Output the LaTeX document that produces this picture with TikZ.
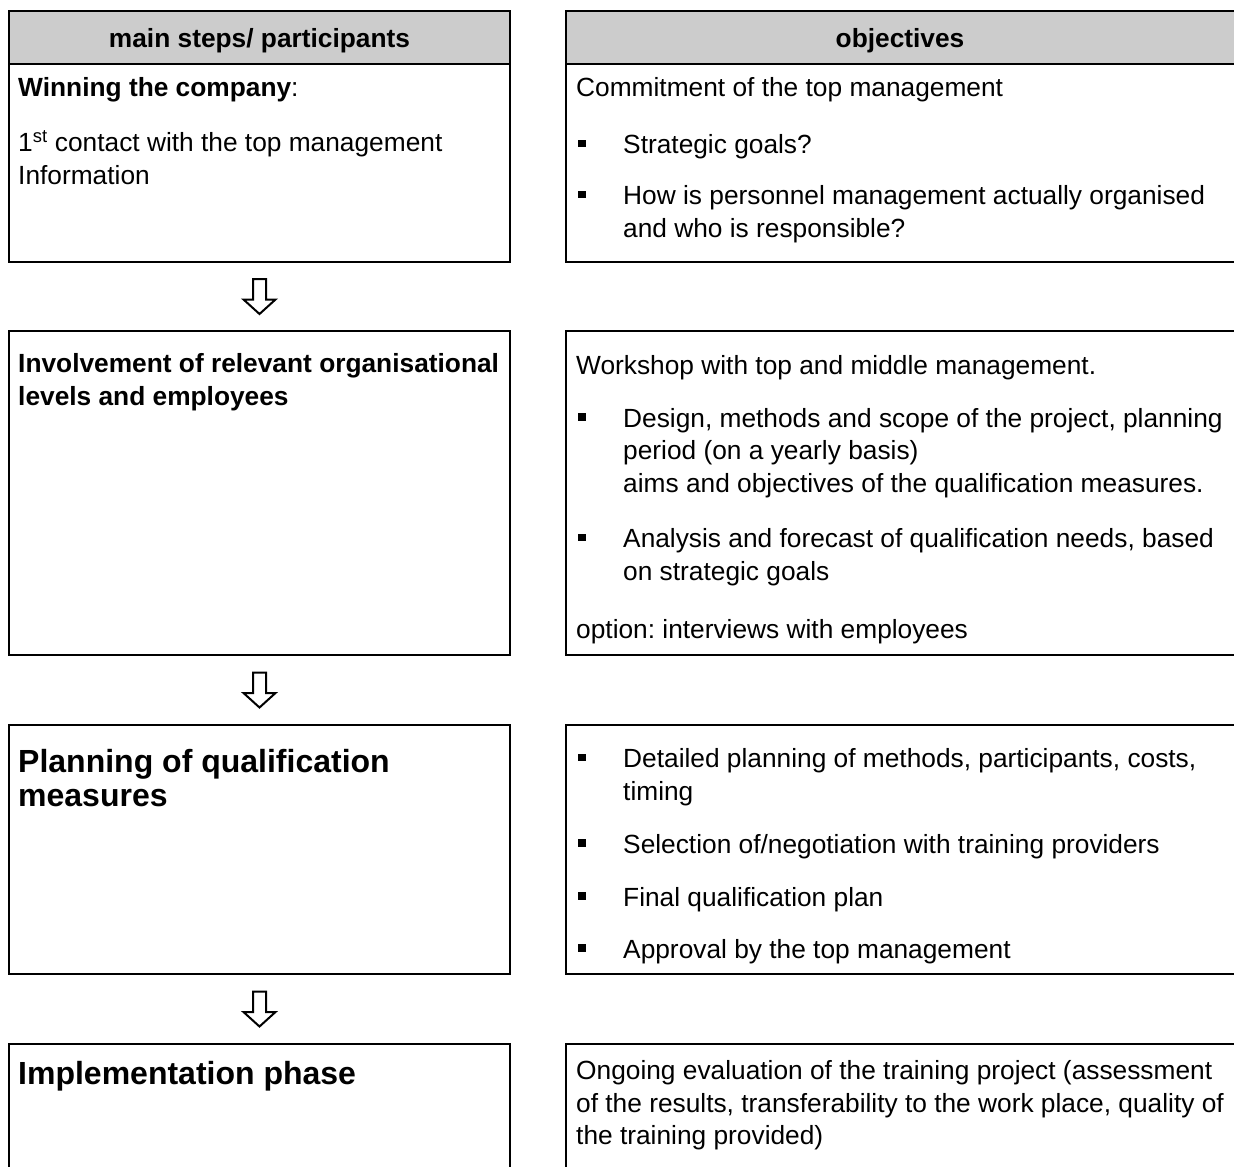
\documentclass[tikz,border=0pt]{standalone}
\usepackage{fontspec}
\setmainfont{Liberation Sans}
\usetikzlibrary{positioning,calc}
\frenchspacing

\tikzset{
  cellbox/.style={line width=2.3pt, draw=black},
  headfill/.style={fill=gray!40},
  celltext/.style={anchor=north west, yshift=22.75pt, inner sep=0pt, align=left,
    font=\fontsize{26.3}{32.5}\selectfont, execute at begin node=\strut},
  headtext/.style={anchor=base, inner sep=0pt, font=\fontsize{26.3}{32.5}\selectfont\bfseries},
  steptext/.style={celltext, font=\fontsize{26.3}{32.5}\selectfont\bfseries},
  bigstep/.style={celltext, yshift=1.05pt, font=\fontsize{32}{34}\selectfont\bfseries},
  downarrow/.style={line width=2pt, draw=black, fill=white, line join=miter},
  stepdown/.pic={
    \draw[downarrow] (-6.5,-17.5) -- (6.5,-17.5) -- (6.5,3) -- (16,3)
      -- (0,17.5) -- (-16,3) -- (-6.5,3) -- cycle;
  },
}
\newcommand{\sqbullet}{\llap{\rule[6.5pt]{7.5pt}{7.5pt}\hspace{37.5pt}}}

\begin{document}
\begin{tikzpicture}[x=1pt, y=-1pt]
  \useasboundingbox (0,0) rectangle (1234,1167);
  \clip (0,0) rectangle (1234,1167);

  % rows of the table
  \foreach \top/\bot [count=\i] in {11/262, 331/655, 725/974, 1044/1200} {
    \draw[cellbox] (9,\top) rectangle (510,\bot);
    \draw[cellbox] (566,\top) rectangle (1250,\bot);
    \coordinate (s\i top) at (259.5,\top);
    \coordinate (s\i bot) at (259.5,\bot);
  }

  % header
  \draw[cellbox, headfill] (9,11) rectangle (510,64);
  \draw[cellbox, headfill] (566,11) rectangle (1250,64);
  \node[headtext] (hsteps) at (259.5,47) {main steps/ participants};
  \node[headtext] (hobj) at (900,47) {objectives};

  % arrows between the steps
  \foreach \i/\j in {1/2, 2/3, 3/4}
    \pic at ($(s\i bot)!0.5!(s\j top)$) {stepdown};

  % step 1 (positions are first baselines)
  \node[celltext] (win) at (18,96) {\textbf{Winning the company}:};
  \node[celltext] (contact) at (18,153.5) {1\textsuperscript{st} contact with the top management\\Information};
  \node[celltext] (commit) at (576,96) {Commitment of the top management};
  \node[celltext] (goals) at (623,153.5) {\sqbullet Strategic goals?};
  \node[celltext] (who) at (623,208) {\sqbullet How is personnel management actually organised\\and who is responsible?};

  % step 2
  \node[steptext] (involve) at (18,376) {Involvement of relevant organisational\\levels and employees};
  \node[celltext] (workshop) at (576,374) {Workshop with top and middle management.};
  \node[celltext] (design) at (623,430.5) {\sqbullet Design, methods and scope of the project, planning\\period (on a yearly basis)\\aims and objectives of the qualification measures.};
  \node[celltext] (analysis) at (623,551) {\sqbullet Analysis and forecast of qualification needs, based\\on strategic goals};
  \node[celltext] (option) at (576,638) {option: interviews with employees};

  % step 3
  \node[bigstep] (planning) at (18,773) {Planning of qualification\\measures};
  \node[celltext] (detail) at (623,771) {\sqbullet Detailed planning of methods, participants, costs,\\timing};
  \node[celltext] (select) at (623,853) {\sqbullet Selection of/negotiation with training providers};
  \node[celltext] (final) at (623,906) {\sqbullet Final qualification plan};
  \node[celltext] (approve) at (623,958) {\sqbullet Approval by the top management};

  % step 4
  \node[bigstep] (implement) at (18,1084) {Implementation phase};
  \node[celltext] (ongoing) at (576,1083) {Ongoing evaluation of the training project (assessment\\of the results, transferability to the work place, quality of\\the training provided)};
\end{tikzpicture}
\end{document}
